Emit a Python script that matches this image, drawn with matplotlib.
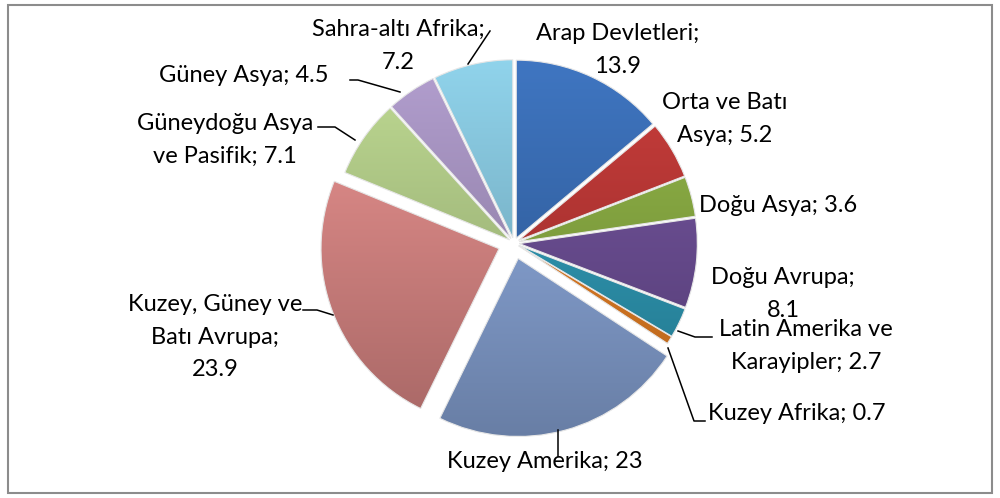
import numpy as np
import matplotlib
matplotlib.use("Agg")
import matplotlib.pyplot as plt
from matplotlib.colors import to_rgb
from matplotlib.patches import Rectangle

plt.rcParams['font.family'] = ['Lato', 'DejaVu Sans']

# data, clockwise from 12 o'clock
regions = ['Arap Devletleri', 'Orta ve Batı Asya', 'Doğu Asya', 'Doğu Avrupa',
           'Latin Amerika ve Karayipler', 'Kuzey Afrika', 'Kuzey Amerika',
           'Kuzey, Güney ve Batı Avrupa', 'Güneydoğu Asya ve Pasifik',
           'Güney Asya', 'Sahra-altı Afrika']
values = [13.9, 5.2, 3.6, 8.1, 2.7, 0.7, 23, 23.9, 7.1, 4.5, 7.2]
label_texts = ['Arap Devletleri;\n13.9', 'Orta ve Batı\nAsya; 5.2', 'Doğu Asya; 3.6',
               'Doğu Avrupa;\n8.1', 'Latin Amerika ve\nKarayipler; 2.7',
               'Kuzey Afrika; 0.7', 'Kuzey Amerika; 23',
               'Kuzey, Güney ve\nBatı Avrupa;\n23.9', 'Güneydoğu Asya\nve Pasifik; 7.1',
               'Güney Asya; 4.5', 'Sahra-altı\u00a0Afrika;\n7.2']

colors = ['#3569B1', '#B93432', '#86A83F', '#6A4C93', '#2C97B3', '#E57E22',
          '#86A2D4', '#D88583', '#AFC985', '#A390BE', '#82C2D9']
explode_frac = [0.03, 0.03, 0.03, 0.03, 0.03, 0.03, 0.09, 0.09, 0.03, 0.03, 0.03]

W, H = 1000, 498
fig = plt.figure(figsize=(10, 4.98), dpi=100)
ax = fig.add_axes([0, 0, 1, 1])

R = 178
cx, cy = 514, H - 243
wedges, _ = ax.pie(values, radius=R, center=(cx, cy), startangle=90, counterclock=False,
                   explode=[e * R for e in explode_frac],
                   wedgeprops=dict(edgecolor='#e6e6e6', linewidth=0.8), frame=True)
ax.set_xlim(0, W)
ax.set_ylim(0, H)
ax.set_aspect('auto')
ax.axis('off')

# vertical gradient inside each slice
for w, c in zip(wedges, colors):
    base = np.array(to_rgb(c))
    top = np.clip(base * 1.05 + 0.03, 0, 1)
    bot = base * 0.78
    t = np.linspace(0, 1, 256)[:, None]
    grad = (top[None, :] * (1 - t) + bot[None, :] * t)[:, None, :]
    grad = np.repeat(grad, 2, axis=1)
    x0 = w.center[0] - R
    y0 = w.center[1] - R
    im = ax.imshow(grad, extent=(x0, x0 + 2 * R, y0, y0 + 2 * R), origin='upper',
                   aspect='auto', zorder=w.get_zorder() + 0.1)
    im.set_clip_path(w)
    w.set_facecolor('none')
    w.set_zorder(w.get_zorder() + 0.2)

# label positions (pixel coords, top-left origin)
label_pos = [(618, 50), (725, 119), (778, 205), (783, 294), (806, 346),
             (797, 413), (545, 461), (215, 337), (225, 140), (244, 75), (398, 46)]
for txt, (px, py) in zip(label_texts, label_pos):
    ax.text(px, H - py, txt, ha='center', va='center', fontsize=17,
            color='#000000', linespacing=1.7)

leaders = [
    [(678, 331), (695, 337), (712, 337)],
    [(668, 348), (694, 421), (705, 421)],
    [(558, 430), (558, 456)],
    [(333, 315), (317, 310), (303, 310)],
    [(355, 140), (335, 127), (318, 127)],
    [(400, 92), (358, 80), (350, 80)],
    [(468, 64), (490, 31)],
]
for pts in leaders:
    xs = [p[0] for p in pts]
    ys = [H - p[1] for p in pts]
    ax.plot(xs, ys, color='black', lw=1.1, zorder=5)

fig.patches.append(Rectangle((8, 5), 984, 488, transform=None, fill=False,
                             edgecolor='#8c8c8c', lw=1.5))

fig.savefig('out.png', dpi=100)
